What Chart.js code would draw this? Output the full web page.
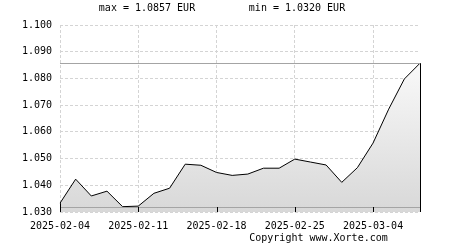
<!DOCTYPE html>
<html>
<head>
<meta charset="utf-8">
<script src="https://cdn.jsdelivr.net/npm/chart.js@4.4.1/dist/chart.umd.min.js"></script>
<style>
html,body{margin:0;padding:0;background:#fff;}
#wrap{width:450px;height:250px;position:relative;}
</style>
</head>
<body>
<div id="wrap"><canvas id="c" width="450" height="250"></canvas></div>
<script>
// ---- data ----
const categories = [
  '2025-02-04','2025-02-05','2025-02-06','2025-02-07',
  '2025-02-10','2025-02-11','2025-02-12','2025-02-13','2025-02-14',
  '2025-02-17','2025-02-18','2025-02-19','2025-02-20','2025-02-21',
  '2025-02-24','2025-02-25','2025-02-26','2025-02-27','2025-02-28',
  '2025-03-03','2025-03-04','2025-03-05','2025-03-06','2025-03-07'
];
const rates = [
  1.0333, 1.0423, 1.0360, 1.0378,
  1.0320, 1.0322, 1.0370, 1.0389, 1.0479,
  1.0475, 1.0448, 1.0437, 1.0442, 1.0464,
  1.0464, 1.0498, 1.0487, 1.0476, 1.0411,
  1.0466, 1.0558, 1.0685, 1.0798, 1.0857
];
const maxRate = 1.0857;
const minRate = 1.0320;
const currency = 'EUR';
const yMin = 1.030, yMax = 1.100, yStep = 0.010;
const xLabelEvery = 5;
const copyrightText = 'Copyright www.Xorte.com';

const FONT = '"DejaVu Sans Mono", monospace';

const decor = {
  id: 'decor',
  afterDatasetsDraw(chart) {
    const ctx = chart.ctx, a = chart.chartArea, ys = chart.scales.y, xs = chart.scales.x;
    ctx.save();
    ctx.strokeStyle = '#a4a4a4';
    ctx.lineWidth = 1;
    [maxRate, minRate].forEach(v => {
      const y = Math.round(ys.getPixelForValue(v)) + 0.5;
      ctx.beginPath(); ctx.moveTo(a.left, y); ctx.lineTo(a.right, y); ctx.stroke();
    });
    const meta = chart.getDatasetMeta(0);
    const pts = [meta.data[0], meta.data[meta.data.length - 1]];
    ctx.strokeStyle = '#000';
    pts.forEach(p => {
      const x = Math.round(p.x) + 0.5;
      ctx.beginPath(); ctx.moveTo(x, p.y); ctx.lineTo(x, a.bottom); ctx.stroke();
    });
    xs.ticks.forEach((t, i) => {
      if (t.label === null || t.label === undefined || t.label === '') return;
      const x = Math.round(xs.getPixelForTick(i)) + 0.5;
      ctx.beginPath(); ctx.moveTo(x, a.bottom - 5); ctx.lineTo(x, a.bottom); ctx.stroke();
    });
    ctx.restore();
  },
  afterDraw(chart) {
    const ctx = chart.ctx;
    ctx.save();
    ctx.fillStyle = '#000';
    ctx.font = '10px ' + FONT;
    ctx.textAlign = 'center';
    ctx.textBaseline = 'middle';
    ctx.fillText('max = ' + maxRate.toFixed(4) + ' ' + currency, 147, 8);
    ctx.fillText('min = ' + minRate.toFixed(4) + ' ' + currency, 297, 8);
    ctx.fillText(copyrightText, 318.5, 238.5);
    ctx.restore();
  }
};

new Chart(document.getElementById('c'), {
  type: 'line',
  data: {
    labels: categories,
    datasets: [{
      data: rates,
      borderColor: '#000',
      borderWidth: 1,
      pointRadius: 0,
      tension: 0,
      fill: 'start',
      backgroundColor: (context) => {
        const chart = context.chart;
        const a = chart.chartArea;
        if (!a) return '#e0e0e0';
        const ys = chart.scales.y;
        const top = ys.getPixelForValue(maxRate);
        const g = chart.ctx.createLinearGradient(0, top, 0, a.bottom);
        g.addColorStop(0, '#f9f9f9');
        g.addColorStop(1, '#d8d8d8');
        return g;
      }
    }]
  },
  options: {
    responsive: false,
    animation: false,
    devicePixelRatio: 1,
    layout: { padding: { top: 25, right: 30, left: 0, bottom: 0 } },
    plugins: { legend: { display: false }, tooltip: { enabled: false }, title: { display: false } },
    scales: {
      x: {
        type: 'category',
        offset: false,
        border: { display: false, dash: [3, 2] },
        grid: { color: '#d4d4d4', drawTicks: false, lineWidth: 1 },
        ticks: {
          autoSkip: false,
          maxRotation: 0,
          minRotation: 0,
          padding: 8,
          color: '#000',
          font: { family: FONT, size: 10 },
          callback: function (v, i) { return i % xLabelEvery === 0 ? this.getLabelForValue(v) : null; }
        },
        afterFit: (s) => { s.height = 38; }
      },
      y: {
        min: yMin, max: yMax,
        border: { display: false, dash: [3, 2] },
        grid: { color: '#d4d4d4', drawTicks: false, lineWidth: 1 },
        ticks: {
          stepSize: yStep,
          padding: 8,
          color: '#000',
          font: { family: FONT, size: 10 },
          callback: (v) => Number(v).toFixed(3)
        },
        afterFit: (s) => { s.width = 60; }
      }
    }
  },
  plugins: [decor]
});
</script>
</body>
</html>
